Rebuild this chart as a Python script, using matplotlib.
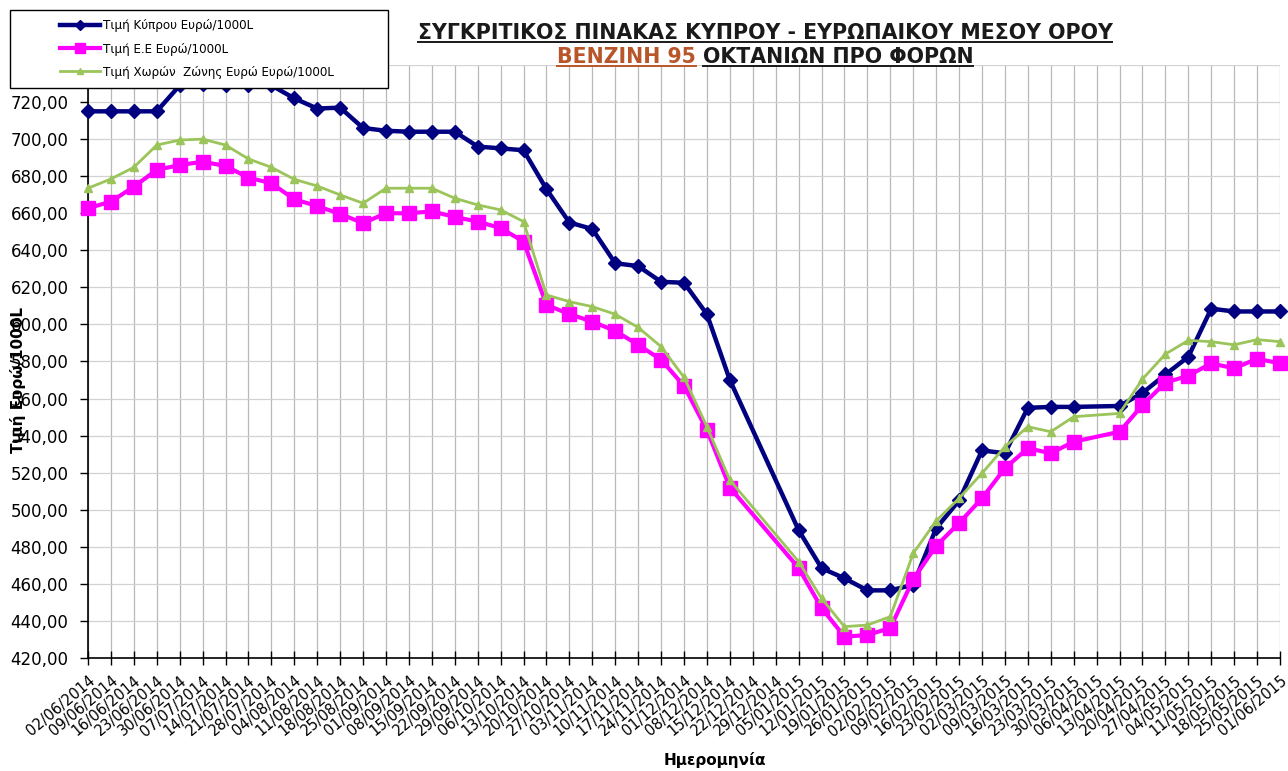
import matplotlib
matplotlib.use("Agg")
import matplotlib.pyplot as plt
import matplotlib.transforms as mtransforms
from matplotlib.lines import Line2D
from matplotlib.patches import Rectangle
import numpy as np

plt.rcParams['font.family'] = ['DejaVu Sans']

dates = ["02/06/2014", "09/06/2014", "16/06/2014", "23/06/2014", "30/06/2014",
         "07/07/2014", "14/07/2014", "21/07/2014", "28/07/2014", "04/08/2014",
         "11/08/2014", "18/08/2014", "25/08/2014", "01/09/2014", "08/09/2014",
         "15/09/2014", "22/09/2014", "29/09/2014", "06/10/2014", "13/10/2014",
         "20/10/2014", "27/10/2014", "03/11/2014", "10/11/2014", "17/11/2014",
         "24/11/2014", "01/12/2014", "08/12/2014", "15/12/2014", "22/12/2014",
         "29/12/2014", "05/01/2015", "12/01/2015", "19/01/2015", "26/01/2015",
         "02/02/2015", "09/02/2015", "16/02/2015", "23/02/2015", "02/03/2015",
         "09/03/2015", "16/03/2015", "23/03/2015", "30/03/2015", "06/04/2015",
         "13/04/2015", "20/04/2015", "27/04/2015", "04/05/2015", "11/05/2015",
         "18/05/2015", "25/05/2015", "01/06/2015"]

cyprus = [715, 715, 715, 715, 729, 730, 729, 729, 729, 722,
          716.5, 717, 706, 704.5, 704, 704, 704, 696, 695, 694,
          673, 655, 651.5, 633, 631.5, 623, 622.5, 605.5, 570, None,
          None, 489, 468.5, 463, 456.5, 456.5, 459.5, 490, 505, 532,
          530.5, 555, 555.5, 555.5, None, 556, 563, 573, 582.5, 608.5,
          607, 607, 607]

eu = [662.7, 666.3, 674.3, 683.4, 686, 687.8, 685.5, 679.2, 676.2, 667.5,
      663.9, 659.6, 654.7, 660, 660, 661, 658, 655.5, 652, 644.7,
      610.5, 605.6, 601.5, 596.5, 589, 581, 566.8, 543, 512, None,
      None, 468.6, 447, 431.5, 432.4, 436.2, 462.5, 480.5, 492.8, 506.2,
      522.4, 533.2, 530.5, 536.7, None, 542.1, 556.5, 568.6, 572.3, 579,
      576.3, 581.5, 579]

eurozone = [673.5, 678.5, 684.8, 696.8, 699.5, 700, 696.8, 689.3, 684.8, 678.3,
            674.7, 669.9, 665.4, 673.5, 673.5, 673.5, 668.1, 664.5, 661.8, 655.5,
            615.9, 612.3, 609.6, 605.5, 598.4, 588, 571.5, 544.8, 516, None,
            None, 472, 452.2, 436.9, 437.8, 442.3, 476.5, 494, 506.2, 519.7,
            534, 544.8, 542.1, 550.2, None, 552, 570.5, 584, 591.4, 590.7,
            589, 591.8, 590.7]

labels = ["Τιμή Κύπρου Ευρώ/1000L", "Τιμή Ε.Ε Ευρώ/1000L",
          "Τιμή Χωρών  Ζώνης Ευρώ Ευρώ/1000L"]
yticks = [420, 440, 460, 480, 500, 520, 540, 560, 580, 600, 620, 640, 660, 680, 700, 720, 740]

W, H = 1288, 771
fig = plt.figure(figsize=(W / 100, H / 100), dpi=100)
ax = fig.add_axes([88 / W, 1 - 658 / H, (1280 - 88) / W, (658 - 65) / H])

x_all = np.arange(len(dates))


def series(vals):
    xs = [i for i, v in enumerate(vals) if v is not None]
    ys = [v for v in vals if v is not None]
    return xs, ys


styles = [
    dict(color='#000080', lw=3.2, marker='D', ms=7, mec='#000080', mfc='#000080'),
    dict(color='#ff00ff', lw=3.0, marker='s', ms=10, mec='#ff00ff', mfc='#ff00ff'),
    dict(color='#9bc45a', lw=2.0, marker='^', ms=6, mec='#9bc45a', mfc='#9bc45a'),
]
handles = []
for vals, st, lab in zip([cyprus, eu, eurozone], styles, labels):
    xs, ys = series(vals)
    h, = ax.plot(xs, ys, label=lab, clip_on=False, zorder=3, **st)
    handles.append(h)

ax.set_xlim(0, len(dates) - 1)
ax.set_ylim(420, 740)
ax.set_yticks(yticks)
ax.set_yticklabels([f"{v:.2f}".replace('.', ',') for v in yticks], fontsize=12)
ax.set_xticks(x_all)
ax.set_xticklabels(dates, rotation=40, ha='right', va='top', rotation_mode='anchor',
                   fontsize=10.5)
ax.tick_params(axis='x', direction='inout', length=10, width=1, pad=6)
ax.tick_params(axis='y', direction='out', length=6, width=1, pad=8)
ax.grid(True, axis='x', color='#b8b8b8', lw=0.9)
ax.grid(True, axis='y', color='#d2d2d2', lw=0.9)
ax.set_axisbelow(True)
for s in ['top', 'right']:
    ax.spines[s].set_visible(False)
for s in ['left', 'bottom']:
    ax.spines[s].set_color('black')
    ax.spines[s].set_linewidth(1.2)

# axis labels
fig.text(715 / W, 1 - 760 / H, "Ημερομηνία", ha='center', va='center',
         fontsize=11, fontweight='bold')
fig.text(18 / W, 1 - 380 / H, "Τιμή Ευρώ/1000L", ha='center', va='center',
         rotation=90, fontsize=11, fontweight='bold')

# legend with custom frame
frame = Rectangle((10 / W, 1 - 88 / H), (388 - 10) / W, (88 - 10) / H,
                  transform=fig.transFigure, facecolor='white', edgecolor='black',
                  lw=1.0, zorder=10)
fig.add_artist(frame)
leg = fig.legend(handles=handles, labels=labels, loc='center left',
                 bbox_to_anchor=(52 / W, 1 - 49 / H), frameon=False, fontsize=8.6,
                 handlelength=3.3, handletextpad=0.3, labelspacing=0.85,
                 borderpad=0.2, markerscale=0.7)
leg.set_zorder(11)

# titles
ident = mtransforms.IdentityTransform()
tsize = 14.8
t_main = fig.text(765 / W, 1 - 33 / H,
                  "ΣΥΓΚΡΙΤΙΚΟΣ ΠΙΝΑΚΑΣ ΚΥΠΡΟΥ - ΕΥΡΩΠΑΙΚΟΥ ΜΕΣΟΥ ΟΡΟΥ",
                  ha='center', va='center', fontsize=tsize, fontweight='bold',
                  color='#1a1a1a')
fig.canvas.draw()
r = fig.canvas.get_renderer()

orange = '#b8562a'
tA = fig.text(0, 1 - 57 / H, "ΒΕΝΖΙΝΗ 95", ha='left', va='center', fontsize=tsize,
              fontweight='bold', color=orange)
tB = fig.text(0, 1 - 57 / H, "ΟΚΤΑΝΙΩΝ ΠΡΟ ΦΟΡΩΝ", ha='left', va='center',
              fontsize=tsize, fontweight='bold', color='#1a1a1a')
wA = tA.get_window_extent(r).width
wB = tB.get_window_extent(r).width
gap = 7
start = 765 - (wA + gap + wB) / 2
tA.set_x(start / W)
tB.set_x((start + wA + gap) / W)
fig.canvas.draw()


def underline(t, color):
    bb = t.get_window_extent(r)
    y = bb.y0 + 1
    fig.add_artist(Line2D([bb.x0, bb.x1], [y, y], transform=ident, color=color, lw=1.4))


underline(t_main, '#1a1a1a')
underline(tA, orange)
underline(tB, '#1a1a1a')

fig.savefig("out.png", dpi=100)
